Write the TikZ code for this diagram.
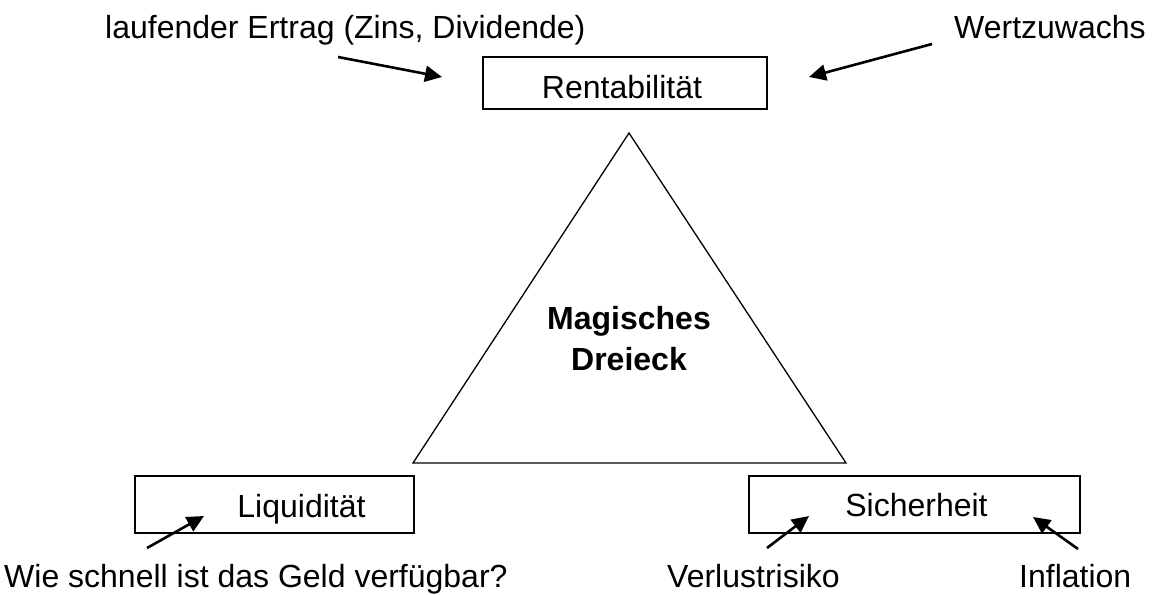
\documentclass[tikz,border=0pt]{standalone}
\usepackage{fontspec}
\setmainfont{Liberation Sans}
\usetikzlibrary{arrows.meta}
\begin{document}
\begin{tikzpicture}[x=1pt,y=-1pt,
  lbl/.style={font=\fontsize{32}{38}\selectfont, inner sep=0pt, anchor=base west},
  boxtext/.style={font=\fontsize{32}{38}\selectfont, inner sep=0pt, anchor=base},
  boxnode/.style={draw, line width=1.4pt, inner sep=0pt},
  arr/.style={line width=2.6pt, -{Triangle[length=17pt,width=16pt]}}
]
\useasboundingbox (0,0) rectangle (1166,594);
% triangle
\coordinate (ta) at (629,133);
\coordinate (tl) at (413,463);
\coordinate (tr) at (846,463);
\draw[line width=1.3pt, line join=miter] (ta) -- (tl) -- (tr) -- cycle;
\node[font=\bfseries\fontsize{32}{41}\selectfont, align=center, inner sep=0pt] (magic) at (629,339) {Magisches\\Dreieck};
% boxes
\node[boxnode, minimum width=284pt, minimum height=52pt] (rent) at (625,83) {};
\node[boxnode, minimum width=279pt, minimum height=57pt] (liq) at (274.5,504.5) {};
\node[boxnode, minimum width=331pt, minimum height=57pt] (sich) at (914.5,504.5) {};
\node[boxtext] (rentt) at (622,98) {Rentabilit\"at};
\node[boxtext] (liqt) at (301.5,517) {Liquidit\"at};
\node[boxtext] (sicht) at (916.5,516) {Sicherheit};
% labels
\node[lbl] (ertrag) at (105,39) {laufender Ertrag (Zins, Dividende)};
\node[lbl] (wert) at (954,39) {Wertzuwachs};
\node[lbl] (wie) at (4,587) {Wie schnell ist das Geld verf\"ugbar?};
\node[lbl] (verl) at (667,587) {Verlustrisiko};
\node[lbl] (infl) at (1019,587) {Inflation};
% arrow endpoints
\coordinate (a1s) at (338,57); \coordinate (a1e) at (442,77);
\coordinate (a2s) at (932,44); \coordinate (a2e) at (809,77);
\coordinate (a3s) at (147,548); \coordinate (a3e) at (204,516);
\coordinate (a4s) at (767,548); \coordinate (a4e) at (809,516);
\coordinate (a5s) at (1078,549); \coordinate (a5e) at (1033,517);
\draw[arr] (a1s) -- (a1e);
\draw[arr] (a2s) -- (a2e);
\draw[arr] (a3s) -- (a3e);
\draw[arr] (a4s) -- (a4e);
\draw[arr] (a5s) -- (a5e);
\end{tikzpicture}
\end{document}
